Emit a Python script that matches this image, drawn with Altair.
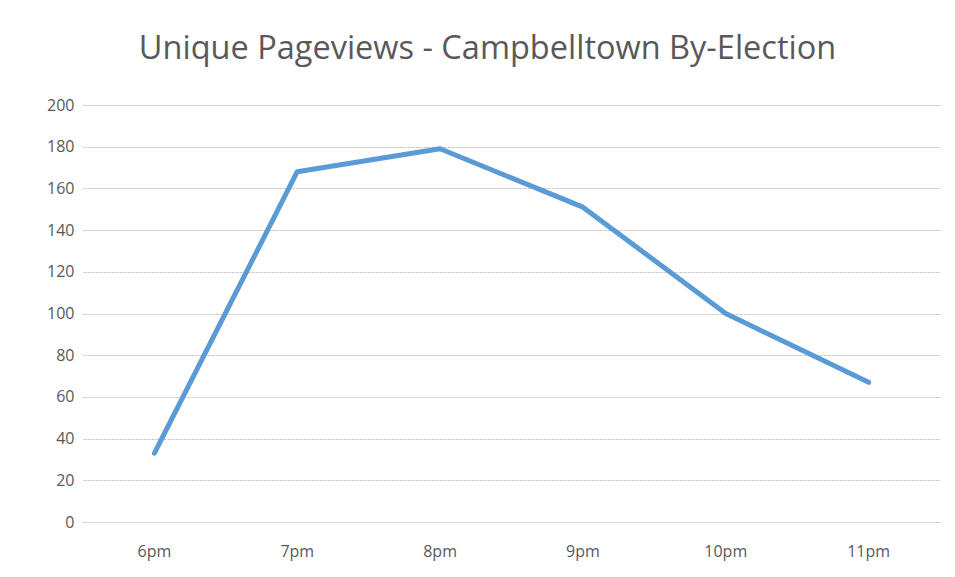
import altair as alt
import pandas as pd

hours = ["6pm", "7pm", "8pm", "9pm", "10pm", "11pm"]
views = [33, 168, 179, 151, 100, 67]

df = pd.DataFrame({"hour": hours, "views": views})

grey = "#595959"

line = alt.Chart(df).mark_line(
    color="#5B9BD5", strokeWidth=5, strokeCap="round", strokeJoin="round"
).encode(
    x=alt.X("hour:N", sort=hours, title=None,
            scale=alt.Scale(type="band", paddingInner=0, paddingOuter=0),
            axis=alt.Axis(labelAngle=0, domain=False, ticks=False, grid=False,
                          labelPadding=21, labelFontSize=16, labelColor=grey,
                          labelFont="Open Sans")),
    y=alt.Y("views:Q", title=None,
            scale=alt.Scale(domain=[0, 200], nice=False),
            axis=alt.Axis(values=list(range(0, 201, 20)), domain=False, ticks=False,
                          labelPadding=9, labelFontSize=16, labelColor=grey,
                          labelFont="Open Sans",
                          gridColor="#c8c8c8", gridWidth=1, gridDash=[3, 1])),
)

frame = alt.Chart(df).mark_rect(
    fill=None, stroke="#d9d9d9", strokeWidth=1.5
).encode(
    x=alt.value(-76), x2=alt.value(1000), y=alt.value(-98), y2=alt.value(800)
).transform_filter(alt.datum.hour == "6pm")

chart = alt.layer(frame, line).properties(
    width=857,
    height=417,
    title=alt.TitleParams(
        "Unique Pageviews - Campbelltown By-Election",
        fontSize=32.5, font="Open Sans", fontWeight="normal", color=grey,
        anchor="middle", frame="group", dx=-24, offset=-59,
    ),
    autosize=alt.AutoSizeParams(type="none"),
    padding={"left": 75, "top": 97, "right": 7, "bottom": 47},
).configure_view(stroke=None)

chart.save("out.html", embed_options={"renderer": "svg", "actions": False})
